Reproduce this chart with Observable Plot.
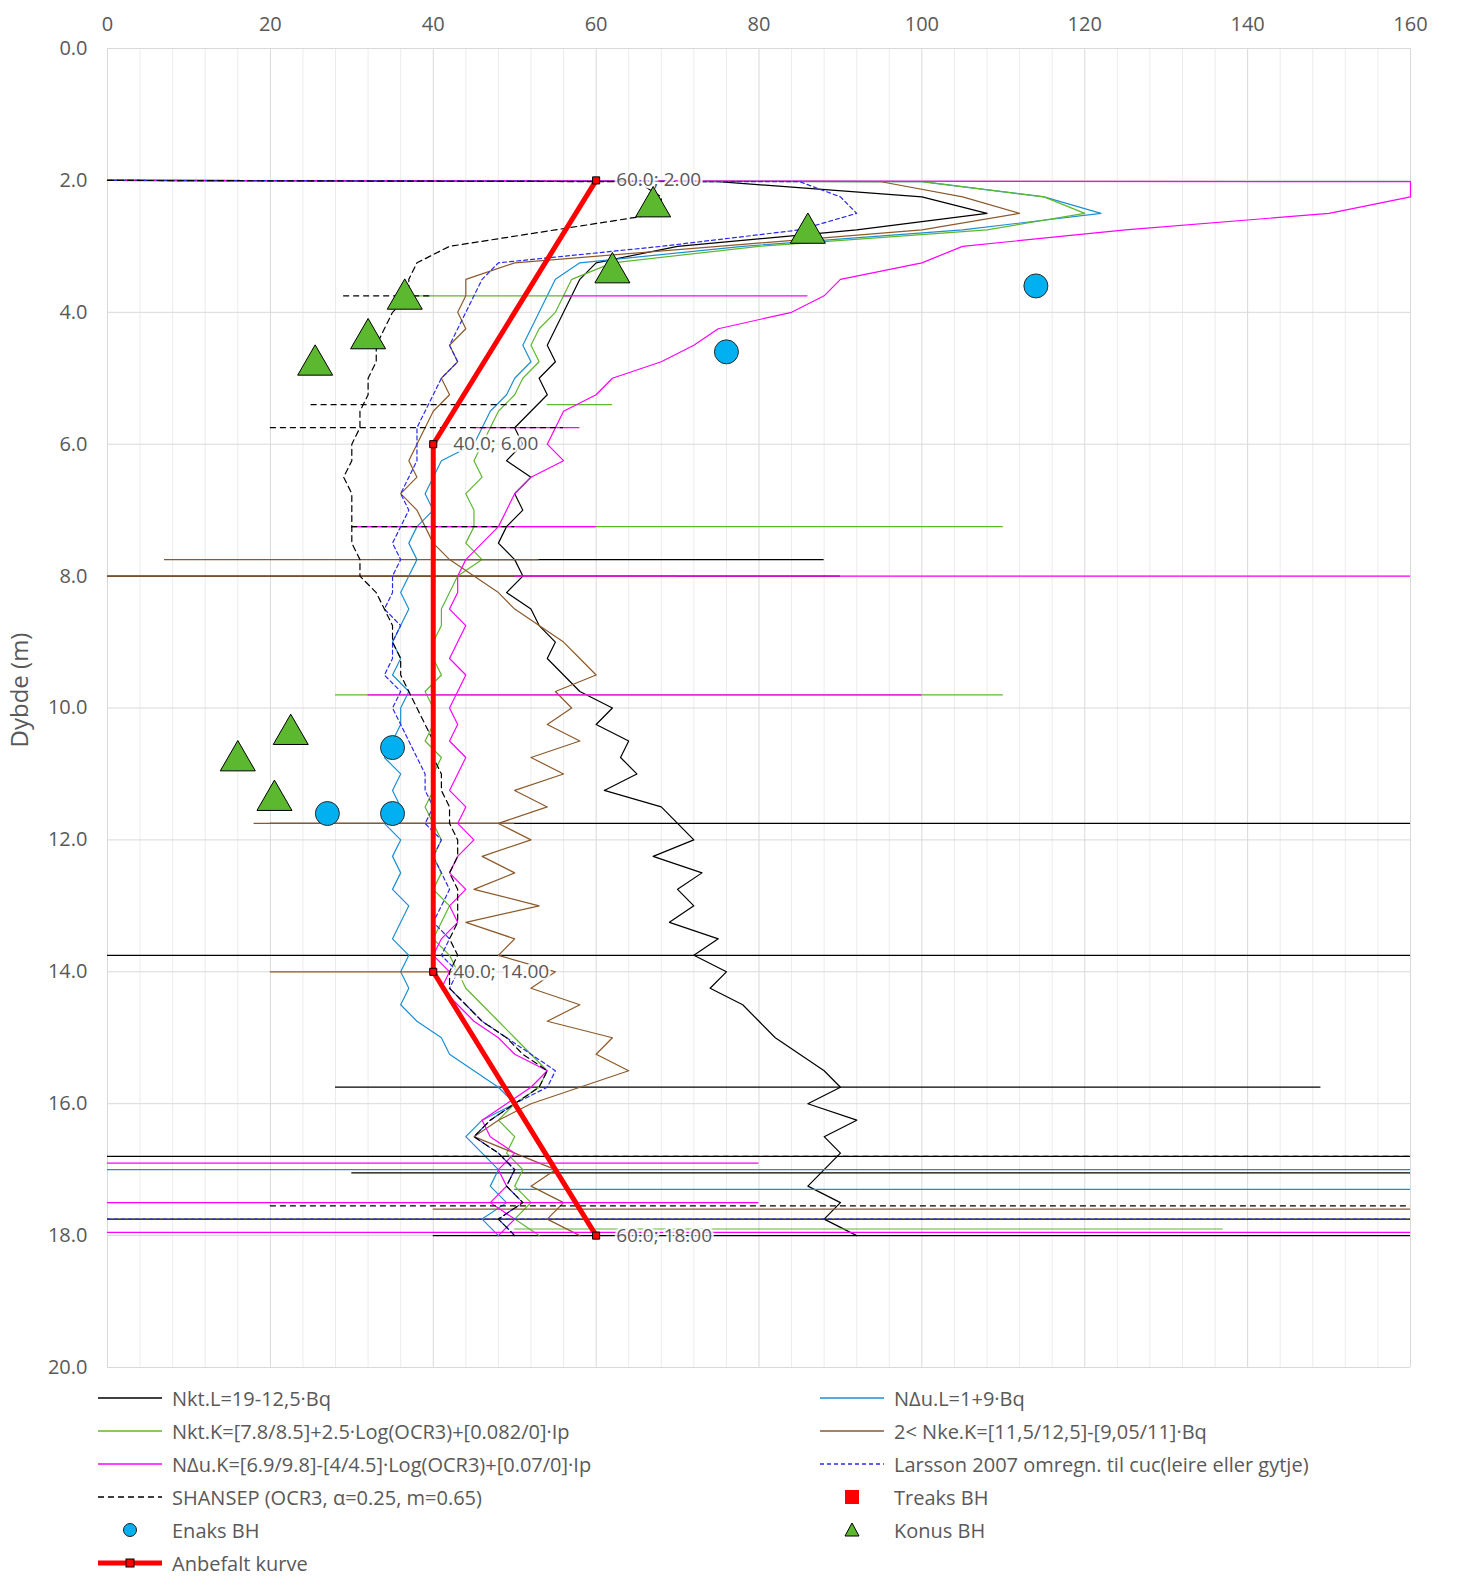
<!DOCTYPE html>
<html><head><meta charset="utf-8">
<script src="https://cdn.jsdelivr.net/npm/d3@7"></script>
<script src="https://cdn.jsdelivr.net/npm/@observablehq/plot@0.6"></script>
<style>
html,body{margin:0;background:#fff;font-family:"Open Sans",sans-serif;color:#595959;overflow:hidden}
#chart svg{max-width:none !important;display:block}
#legend{display:grid;grid-template-columns:722px 640px;margin-left:96px;font-size:20px;row-gap:5px;margin-top:2px}
#legend div{display:flex;align-items:center;height:28px}
#legend svg{margin-right:8px}
</style></head><body>
<div id="chart"></div>
<div id="legend"></div>
<script>
const depth = [2, 2.02,
 2.25,2.5,2.75,3, 3.25,3.5,3.75,4, 4.25,4.5,4.75,5, 5.25,5.5,5.75,6,
 6.25,6.5,6.75,7, 7.25,7.5,7.75,8, 8.25,8.5,8.75,9, 9.25,9.5,9.75,10,
 10.25,10.5,10.75,11, 11.25,11.5,11.75,12, 12.25,12.5,12.75,13, 13.25,13.5,13.75,14,
 14.25,14.5,14.75,15, 15.25,15.5,15.75,16, 16.25,16.5,16.75,17, 17.25,17.5,17.75,18]

const nktL = [0,75, 100,108,92,70, 60,58,57,56, 55,54,55,53, 54,52,50,51, 49,52,50,51, 49,48,50,51,
 49,52,53,55, 54,56,58,62, 60,64,63,65, 61,68,70,72, 67,73,70,72, 69,75,72,76, 74,78,80,82,
 85,88,90,86, 92,88,90,88, 86,90,88,92]
const nduL = [0,100, 115,122,105,78, 58,55,54,53, 52,51,52,50, 49,47,46,45, 41,40,39,40, 38,37,38,37,
 36,37,36,35, 36,35,37,36, 36,35,34,36, 35,36,34,36, 35,36,35,37, 36,35,37,36, 37,36,38,41,
 42,45,48,50, 46,44,46,48, 47,49,46,48]
const nktK = [0,100, 115,120,108,80, 62,57,56,55, 53,52,53,51, 50,48,47,46, 45,46,44,45, 45,44,46,43,
 42,41,41,40, 40,41,39,40, 40,39,41,40, 40,39,40,41, 40,41,40,42, 41,40,42,43, 44,46,48,50,
 52,54,53,50, 48,50,49,51, 50,52,50,53]
const nkeK = [0,95, 105,112,100,75, 50,44,44,43, 44,42,43,41, 42,40,39,38, 37,38,36,38, 39,40,42,45,
 48,50,53,56, 58,60,55,57, 54,58,52,56, 50,54,48,52, 46,50,45,53, 44,50,48,55, 52,58,54,62,
 60,64,58,52, 48,45,50,55, 52,56,54,58]
const nduK = [0,160, 160,150,125,105, 100,90,88,84, 75,72,68,62, 60,56,55,54, 56,52,50,49, 48,46,44,43,
 43,42,44,43, 42,44,43,42, 43,42,44,43, 42,44,43,45, 43,42,44,42, 43,41,40,42, 41,43,45,48,
 50,54,52,49, 46,47,50,48, 49,47,50,48]
const larsson = [0,85, 90,92,85,68, 48,46,45,44, 43,42,43,41, 40,39,38,38, 38,37,36,37, 36,35,36,35,
 35,34,36,35, 35,34,36,35, 36,37,38,39, 39,40,39,41, 40,41,42,41, 40,42,41,43, 42,44,46,49,
 52,55,54,50, 47,45,48,50, 49,51,48,50]
const shansep = [0,65, 68,68,55,42, 38,37,37,35, 34,33,33,32, 32,31,31,30, 30,29,30,30, 30,30,31,31,
 33,34,35,35, 36,36,37,38, 39,40,40,41, 41,42,42,43, 43,42,43,43, 43,42,43,42, 42,44,46,49,
 51,54,53,50, 47,45,48,50, 49,51,48,50]

// horizontal spikes: [depth, from, to, series]
const spikes = [
 [3.75,56,86,"nduK"],[3.75,36,57,"nktK"],[3.75,29,40,"shansep"],
 [5.4,25,52,"shansep"],[5.4,54,62,"nktK"],[5.75,20,56,"shansep"],[5.75,45,58,"nduK"],
 [7.25,30,110,"nktK"],[7.25,30,60,"nduK"],[7.25,30,50,"shansep"],
 [7.75,7,53,"nkeK"],[7.75,40,88,"nktL"],
 [8.0,0,90,"nktL"],[8.0,50,160,"nduK"],[8.0,0,70,"nkeK"],
 [9.8,28,110,"nktK"],[9.8,32,100,"nduK"],
 [11.75,20,160,"nktL"],[11.75,18,50,"nkeK"],
 [13.75,0,160,"nktL"],[14.0,20,45,"nkeK"],[15.75,28,149,"nktL"],
 [16.8,0,160,"nktL"],[16.8,40,160,"shansep"],[16.9,0,80,"nduK"],[17.0,0,160,"nduL"],[17.05,30,160,"nktL"],
 [17.3,50,160,"nduL"],[17.5,0,80,"nduK"],[17.55,20,160,"shansep"],[17.6,40,160,"nkeK"],
 [17.75,0,160,"nktL"],[17.75,0,160,"larsson"],[17.95,0,160,"nduK"],[17.9,50,137,"nktK"],[18.0,40,160,"nktL"]
]

const anbefalt = [[60,2],[40,6],[40,14],[60,18]]
const enaks = [[114,3.6],[76,4.6],[35,10.6],[27,11.6],[35,11.6]]
const konus = [[67,2.4],[86,2.8],[62,3.4],[36.5,3.8],[32,4.4],[25.5,4.8],[22.5,10.4],[16,10.8],[20.5,11.4]]

const series = [
 {key:"nktL", name:"Nkt.L=19-12,5·Bq", v:nktL, color:"#000000", dash:null},
 {key:"nduL", name:"NΔu.L=1+9·Bq", v:nduL, color:"#1b8fd0", dash:null},
 {key:"nktK", name:"Nkt.K=[7.8/8.5]+2.5·Log(OCR3)+[0.082/0]·Ip", v:nktK, color:"#5cb82e", dash:null},
 {key:"nkeK", name:"2< Nke.K=[11,5/12,5]-[9,05/11]·Bq", v:nkeK, color:"#8c5a2a", dash:null},
 {key:"nduK", name:"NΔu.K=[6.9/9.8]-[4/4.5]·Log(OCR3)+[0.07/0]·Ip", v:nduK, color:"#ff00ff", dash:null},
 {key:"larsson", name:"Larsson 2007 omregn. til cuc(leire eller gytje)", v:larsson, color:"#2a2aee", dash:"4,3"},
 {key:"shansep", name:"SHANSEP (OCR3, α=0.25, m=0.65)", v:shansep, color:"#000000", dash:"6,4"}
]

const marks = [
 Plot.gridX(d3.range(0,161,4).filter(v => v % 20), {stroke:"#ececec", strokeOpacity:1}),
 Plot.gridX(d3.range(0,161,20), {stroke:"#d9d9d9", strokeOpacity:1}),
 Plot.gridY(d3.range(0,21,2), {stroke:"#d9d9d9", strokeOpacity:1})
]
series.forEach(s => {
 const pts = s.v.map((x,i) => ({x, y:depth[i]}))
 marks.push(Plot.line(pts, {x:"x", y:"y", stroke:s.color, strokeWidth:1.2, strokeDasharray:s.dash}))
 marks.push(Plot.ruleY(spikes.filter(d => d[3] == s.key), {y:d => d[0], x1:d => d[1], x2:d => d[2], stroke:s.color, strokeWidth:1.2, strokeDasharray:s.dash}))
})
marks.push(
 Plot.line(anbefalt, {x:"0", y:"1", stroke:"#ff0000", strokeWidth:5}),
 Plot.dot(anbefalt, {x:"0", y:"1", symbol:"square", r:4, fill:"#ff0000", stroke:"#000", strokeWidth:1}),
 Plot.text(anbefalt, {x:"0", y:"1", text:d => `${d[0].toFixed(1)}; ${d[1].toFixed(2)}`, dx:20, textAnchor:"start", fill:"#595959", fontSize:19, stroke:"#fff", strokeWidth:5, strokeOpacity:0.85}),
 Plot.dot(enaks, {x:"0", y:"1", r:12, fill:"#00b0f0", stroke:"#2a2a2a", strokeWidth:1}),
 Plot.dot(konus, {x:"0", y:"1", symbol:"triangle", r:13, fill:"#5cb82e", stroke:"#000", strokeWidth:1})
)

const chart = Plot.plot({
 width:1464, height:1382,
 marginTop:48, marginBottom:15, marginLeft:107, marginRight:54,
 style:{fontFamily:"'Open Sans', sans-serif", fontSize:"20px", color:"#595959", background:"#fff"},
 x:{domain:[0,160], axis:"top", ticks:d3.range(0,161,20), tickSize:0, tickPadding:18, label:null},
 y:{domain:[0,20], reverse:true, ticks:d3.range(0,21,2), tickFormat:d => d.toFixed(1), tickSize:0, tickPadding:20, label:null},
 marks
})
document.getElementById("chart").append(chart)
d3.select(chart).append("text").attr("transform","translate(28,690) rotate(-90)").attr("text-anchor","middle")
 .attr("fill","#595959").attr("font-size",24).text("Dybde (m)")

// legend
const leg = document.getElementById("legend")
const sw = inner => `<svg width="68" height="14">${inner}</svg>`
const items = series.map(s => [sw(`<line x1="2" x2="66" y1="7" y2="7" stroke="${s.color}" stroke-width="1.5" ${s.dash ? `stroke-dasharray="${s.dash}"` : ""}/>`), s.name])
items.push([sw(`<rect x="27" y="0" width="14" height="14" fill="#ff0000"/>`), "Treaks BH"])
items.push([sw(`<circle cx="34" cy="7" r="6.5" fill="#00b0f0" stroke="#222"/>`), "Enaks BH"])
items.push([sw(`<polygon points="34,0 41,13 27,13" fill="#5cb82e" stroke="#000"/>`), "Konus BH"])
items.push([sw(`<line x1="2" x2="66" y1="7" y2="7" stroke="#ff0000" stroke-width="5"/><rect x="30" y="3" width="8" height="8" fill="#ff0000" stroke="#000"/>`), "Anbefalt kurve"])
items.forEach(([s,t]) => { const d = document.createElement("div"); d.innerHTML = s + `<span>${t}</span>`; leg.append(d) })
</script>
</body></html>
